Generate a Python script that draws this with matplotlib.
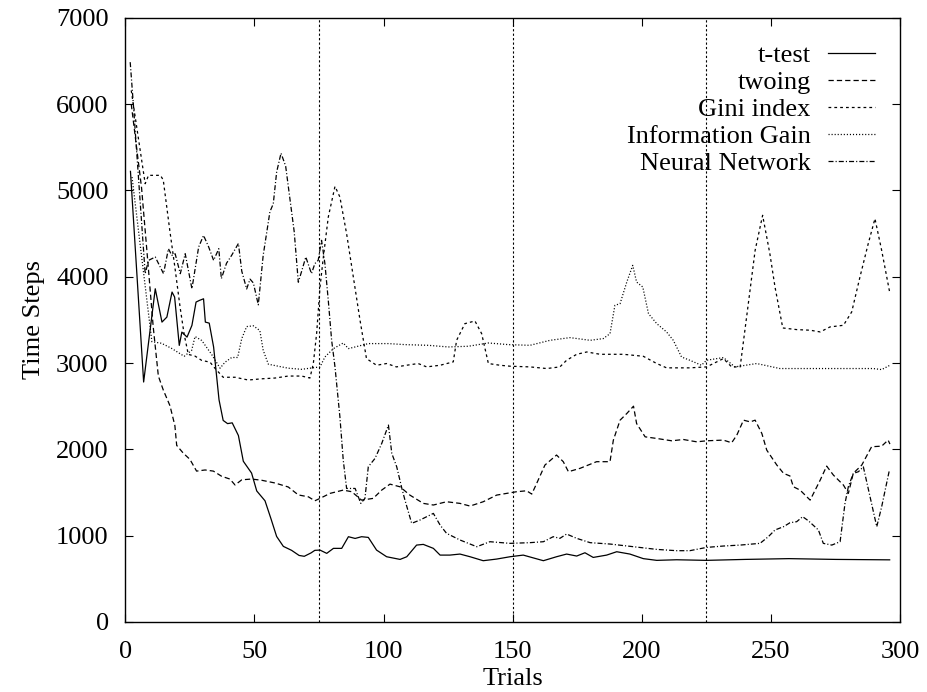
import matplotlib
matplotlib.use("Agg")
import matplotlib.pyplot as plt

plt.rcParams['font.family'] = ['Liberation Serif', 'DejaVu Serif']
plt.rcParams['lines.scale_dashes'] = False

# ---- data ----
ttest_t = [2, 7.1, 11.6, 14.2, 16.1, 18.1, 19.1, 20.9, 21.9, 23.9, 25.8, 27.4, 28.7, 30.3, 31, 32.5, 34.2,
           36.3, 37.9, 39.6, 41.4, 43.8, 45.7, 48.9, 50.9, 54.1, 56.4, 58.6, 61.2, 64.4, 67.3, 69.3, 71.9,
           73.4, 75.4, 78, 80.6, 83.8, 86.4, 89, 91.5, 94.1, 97.3, 101.2, 106.4, 109, 112.8, 115.4, 119.3,
           121.9, 125.7, 129.6, 133.5, 138.6, 143.8, 149, 154.1, 161.9, 167, 170.9, 174.8, 178, 181.2,
           186.4, 190.3, 195.4, 200.6, 205.8, 213.5, 225, 240, 257, 275, 296]
ttest_v = [5220, 2780, 3860, 3474, 3532, 3822, 3764, 3204, 3358, 3300, 3436, 3706, 3725, 3744, 3474, 3462,
           3185, 2573, 2335, 2298, 2307, 2160, 1862, 1725, 1518, 1404, 1197, 991, 876, 830, 771, 761, 800,
           830, 833, 795, 853, 853, 988, 968, 988, 980, 833, 756, 725, 756, 891, 899, 853, 775, 775, 787,
           756, 710, 729, 756, 775, 710, 756, 787, 764, 802, 748, 775, 814, 787, 734, 714, 721, 714, 725,
           734, 725, 720]

twoing_t = [2.3, 6.3, 8.9, 10.8, 12.8, 14.7, 17.3, 19.2, 19.9, 22.5, 25, 27.6, 30.9, 34.1, 37.3, 40.5, 42.5,
            45.1, 48.9, 52.8, 58, 63.1, 67, 70.9, 73.4, 75.4, 79.3, 84.4, 87.7, 91.5, 96, 99.3, 102.5, 106.4,
            110.2, 115.4, 119.3, 124.4, 129.6, 133.5, 138.6, 143.8, 147.7, 151.5, 155.4, 157.4, 159.3, 162.5,
            167, 169.6, 171.6, 176.1, 182.5, 187.7, 189, 191.6, 194.2, 196.8, 198, 201.3, 205.8, 211.6, 216.1,
            221.3, 225.1, 231.6, 234.8, 236.8, 239.4, 242, 243.9, 246.5, 248.4, 252.3, 254.9, 257.4, 258.7,
            261.3, 265.2, 269.1, 271.6, 274.2, 278.1, 280, 281.9, 285.2, 289, 292.9, 295.4, 296.1]
twoing_v = [6000, 5028, 4110, 3422, 2849, 2688, 2505, 2275, 2046, 1954, 1885, 1748, 1761, 1748, 1688, 1656,
            1587, 1647, 1656, 1642, 1610, 1564, 1472, 1450, 1404, 1432, 1490, 1528, 1509, 1412, 1432, 1528,
            1597, 1566, 1470, 1374, 1355, 1393, 1374, 1343, 1393, 1470, 1490, 1509, 1520, 1482, 1605, 1818,
            1934, 1857, 1741, 1780, 1857, 1857, 2107, 2338, 2415, 2500, 2299, 2145, 2126, 2099, 2114, 2087,
            2099, 2107, 2076, 2164, 2338, 2318, 2338, 2184, 1991, 1818, 1722, 1691, 1567, 1528, 1412, 1644,
            1806, 1702, 1586, 1490, 1722, 1818, 2030, 2037, 2107, 2061]

gini_t = [2.3, 7.7, 9, 13.6, 14.7, 17.3, 19.2, 21.2, 22.8, 24.4, 27, 29.6, 32.8, 34.7, 37.9, 42.5, 47.6, 52.8,
          58, 63.1, 68.3, 71.5, 72.8, 74.1, 75.4, 76.7, 78.6, 81.2, 83.1, 85.7, 88.3, 90.9, 93.4, 97.3, 101.2,
          105, 108.9, 113.4, 116.7, 121.9, 127, 128.3, 131.5, 135.4, 138, 140.6, 145.1, 149, 156.7, 163.2,
          168.3, 170.9, 174.8, 178.7, 183.9, 192.9, 200.6, 205.8, 209.6, 218.6, 225.1, 231.6, 234.8, 238.1,
          240.6, 243.9, 246.8, 249.6, 251.6, 254.6, 260, 265.2, 269.1, 272.9, 278.1, 281.3, 284.5, 287.7,
          290.3, 292.9, 296.1]
gini_v = [6157, 5077, 5174, 5174, 5120, 4520, 4110, 3650, 3330, 3100, 3080, 3030, 3010, 2940, 2835, 2835, 2803,
          2817, 2826, 2849, 2849, 2826, 2990, 3345, 3880, 4227, 4690, 5046, 4923, 4498, 3997, 3495, 3051, 2974,
          2994, 2955, 2974, 2994, 2955, 2974, 3013, 3263, 3456, 3487, 3340, 2994, 2974, 2963, 2955, 2936, 2955,
          3032, 3101, 3128, 3101, 3101, 3078, 2994, 2944, 2944, 2955, 3051, 2955, 2955, 3533, 4305, 4711, 4267,
          3880, 3406, 3387, 3380, 3360, 3418, 3437, 3592, 3997, 4383, 4672, 4305, 3804]

infogain_t = [2.6, 10.3, 14, 17.9, 22.8, 25.7, 27, 29.6, 33.4, 36.7, 38.6, 41.2, 43.5, 45.1, 47, 49.6, 52.1,
              53.4, 55.4, 59.2, 63.1, 68.3, 71.5, 75.4, 77.3, 80.6, 84.4, 86.4, 89, 94.1, 101.9, 108.3, 117.3,
              125.1, 132.8, 140.6, 148.4, 156.7, 164.5, 172.2, 180, 185.1, 187.7, 189.6, 191.6, 194.2, 196.5,
              198, 200.4, 202.6, 205.8, 209.6, 212.2, 215.4, 218.6, 223.1, 225.1, 231.6, 236.1, 244.5, 253.5,
              270.3, 289.6, 292.9, 296.1]
infogain_v = [5154, 3247, 3229, 3170, 3078, 3147, 3307, 3261, 3101, 2940, 3009, 3064, 3064, 3284, 3422, 3431,
              3376, 3147, 2986, 2963, 2940, 2927, 2940, 2955, 3070, 3167, 3232, 3167, 3186, 3225, 3225, 3213,
              3205, 3186, 3194, 3232, 3213, 3205, 3263, 3294, 3263, 3283, 3340, 3668, 3688, 3938, 4131, 3938,
              3880, 3572, 3456, 3360, 3263, 3070, 3032, 2974, 3032, 3063, 2955, 2994, 2936, 2936, 2936, 2924,
              2974]

nn_t = [1.9, 3.2, 7.7, 9, 11.6, 14.8, 16.7, 18, 19.3, 21.3, 23.2, 25.8, 28.4, 30.3, 32.3, 34.2, 36.2, 37.2,
        39.2, 41.2, 43.8, 45.1, 47, 48.3, 49.6, 51.5, 53.4, 56, 57.3, 58.6, 60.3, 62.1, 63.8, 65.4, 67, 68.3,
        69.9, 72.1, 73.4, 74.7, 76, 77.3, 78.6, 79.9, 81.2, 83.1, 84.4, 85.7, 87.7, 89, 91.2, 92.8, 94.1, 96.7,
        99.3, 101.9, 103.2, 105.1, 107.1, 108.3, 110.9, 114.1, 119.3, 121.9, 124.4, 129.6, 136.1, 141.2, 149,
        156.7, 161.9, 165.7, 168.3, 170.9, 174.8, 180, 187.7, 196.8, 205.8, 213.5, 218.6, 225.1, 231.6, 238.1,
        245.8, 249, 251.6, 254.9, 257.4, 260, 262.3, 264.5, 268.4, 270.3, 273.6, 276.8, 278.7, 280, 281.9,
        283.9, 285.8, 288.4, 291, 292.9, 294.8, 295.9]
nn_v = [6485, 5964, 4035, 4189, 4228, 4035, 4324, 4247, 4266, 4035, 4266, 3860, 4343, 4478, 4343, 4189, 4324,
        3977, 4156, 4248, 4385, 4064, 3858, 3972, 3927, 3674, 4248, 4752, 4844, 5211, 5431, 5280, 4890, 4523,
        3936, 4064, 4228, 4035, 4151, 4190, 4421, 4151, 3727, 3264, 2955, 2377, 1875, 1547, 1547, 1547, 1374,
        1432, 1798, 1895, 2068, 2281, 1953, 1798, 1547, 1412, 1143, 1181, 1258, 1123, 1027, 950, 872, 930, 911,
        919, 930, 988, 969, 1019, 969, 919, 903, 872, 841, 826, 826, 864, 880, 891, 911, 988, 1066, 1104, 1150,
        1162, 1220, 1173, 1066, 911, 891, 930, 1374, 1567, 1721, 1741, 1798, 1451, 1104, 1335, 1605, 1760]

labels = ['t-test', 'twoing', 'Gini index', 'Information Gain', 'Neural Network']
vlines = [75, 150, 225]
xticks = [0, 50, 100, 150, 200, 250, 300]
yticks = [0, 1000, 2000, 3000, 4000, 5000, 6000, 7000]

# ---- figure ----
W, H = 928, 692
fig = plt.figure(figsize=(W / 100, H / 100), dpi=100)
ax = fig.add_axes([125.3 / W, 1 - 622 / H, (900 - 125.3) / W, (622 - 17.7) / H])

lw = 0.9
series = [
    (ttest_t, ttest_v, dict(linestyle='-')),
    (twoing_t, twoing_v, dict(dashes=(3.8, 2.2))),
    (gini_t, gini_v, dict(dashes=(2.0, 2.2))),
    (infogain_t, infogain_v, dict(dashes=(0.8, 1.4))),
    (nn_t, nn_v, dict(dashes=(3.6, 1.5, 0.8, 1.5))),
]
for (t, v, st), lab in zip(series, labels):
    ax.plot(t, v, color='black', lw=lw, label=lab, **st)

for xv in vlines:
    ax.axvline(xv, color='black', lw=0.8, dashes=(1.6, 1.6))

ax.set_xlim(0, 300)
ax.set_ylim(0, 7000)
ax.set_xticks(xticks)
ax.set_yticks(yticks)
ax.tick_params(direction='in', top=True, right=True, length=5.8, width=0.8, labelsize=19)
ax.tick_params(axis='y', pad=12)
ax.tick_params(axis='x', pad=13.5)
for s in ax.spines.values():
    s.set_linewidth(1.0)

ax.set_xlabel('Trials', fontsize=19, labelpad=4)
ax.set_ylabel('Time Steps', fontsize=19, labelpad=8)

leg = ax.legend(loc='upper right', bbox_to_anchor=(0.968, 0.957), frameon=False, fontsize=19,
                markerfirst=False, handlelength=1.8, handletextpad=0.65, labelspacing=0.13,
                borderpad=0, borderaxespad=0)
# right-align the rows (text flush against the line samples)
for col in leg._legend_handle_box.get_children():
    col.align = 'right'

fig.savefig('out.png', dpi=100)
